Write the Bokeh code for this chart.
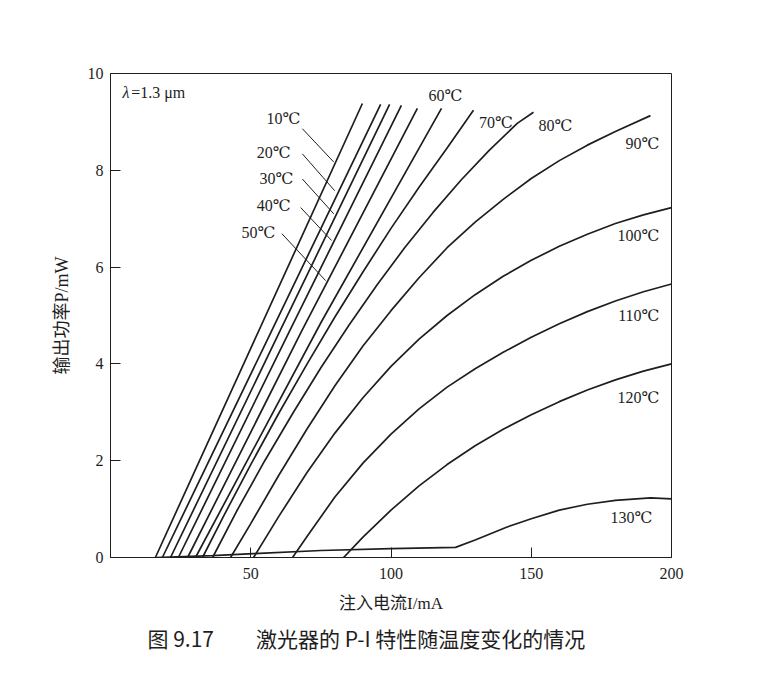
from bokeh.plotting import figure
from bokeh.models import Range1d, FixedTicker, Title
from bokeh.core.properties import value
from bokeh.embed import file_html
from bokeh.resources import INLINE

# ---------------- data ----------------
temps = ["10℃", "20℃", "30℃", "40℃", "50℃", "60℃", "70℃",
         "80℃", "90℃", "100℃", "110℃", "120℃", "130℃"]

i_10 = [16.0, 50.0, 89.8]
p_10 = [0.0, 4.32, 9.38]
i_20 = [18.5, 55.0, 96.3]
p_20 = [0.0, 4.39, 9.36]
i_30 = [21.4, 60.0, 99.5]
p_30 = [0.0, 4.63, 9.36]
i_40 = [24.2, 64.0, 103.7]
p_40 = [0.0, 4.70, 9.34]
i_50 = [27.5, 68.0, 109.4]
p_50 = [0.0, 4.66, 9.28]
i_60 = [30.3, 75.0, 118.0]
p_60 = [0.0, 4.85, 9.28]
i_70 = [32.8, 40, 50, 60, 70, 80, 90, 100, 110, 120, 129.4]
p_70 = [0.0, 0.82, 1.92, 2.98, 3.99, 4.97, 5.9, 6.8, 7.65, 8.46, 9.24]
i_80 = [36.4, 45, 55, 65, 75, 85, 95, 105, 115, 125, 135, 145, 150.8]
p_80 = [0.0, 0.96, 2.0, 2.98, 3.92, 4.80, 5.63, 6.41, 7.13, 7.80, 8.41, 8.97, 9.2]
i_90 = [42.8, 50, 60, 70, 80, 90, 100, 110, 120, 130, 140, 150, 160, 170, 180, 192.5]
p_90 = [0.0, 0.7, 1.7, 2.65, 3.55, 4.37, 5.1, 5.78, 6.4, 6.93, 7.4, 7.83, 8.2, 8.52, 8.8, 9.13]
i_100 = [51, 60, 70, 80, 90, 100, 110, 120, 130, 140, 150, 160, 170, 180, 190, 200]
p_100 = [0.0, 0.85, 1.75, 2.57, 3.3, 3.95, 4.51, 5.0, 5.43, 5.81, 6.14, 6.43, 6.68, 6.9, 7.08, 7.23]
i_110 = [64.9, 70, 80, 90, 100, 110, 120, 130, 140, 150, 160, 170, 180, 190, 200]
p_110 = [0.0, 0.43, 1.25, 1.95, 2.55, 3.07, 3.52, 3.9, 4.24, 4.55, 4.83, 5.08, 5.3, 5.49, 5.65]
i_120 = [83.1, 90, 100, 110, 120, 130, 140, 150, 160, 170, 180, 190, 200]
p_120 = [0.0, 0.42, 0.98, 1.48, 1.92, 2.31, 2.65, 2.95, 3.22, 3.46, 3.67, 3.85, 4.0]
i_130 = [16, 36.4, 51, 75, 100, 123, 130, 141.4, 150, 160, 170, 180, 192.5, 200]
p_130 = [0.0, 0.04, 0.08, 0.145, 0.185, 0.21, 0.36, 0.63, 0.8, 0.98, 1.1, 1.18, 1.23, 1.21]

currents = [i_10, i_20, i_30, i_40, i_50, i_60, i_70, i_80, i_90, i_100, i_110, i_120, i_130]
powers = [p_10, p_20, p_30, p_40, p_50, p_60, p_70, p_80, p_90, p_100, p_110, p_120, p_130]

# labels 10..50 with leader lines
left_lab_x = [67.7, 64.2, 65.2, 64.2, 58.8]
left_lab_y = [9.07, 8.37, 7.83, 7.27, 6.72]
lead_x0 = [68.4, 68.4, 68.4, 67.8, 61.1]
lead_y0 = [8.86, 8.34, 7.82, 7.23, 6.69]
lead_x1 = [79.6, 79.9, 79.6, 78.8, 76.7]
lead_y1 = [8.17, 7.58, 7.10, 6.55, 5.72]

# labels 60..80 (centred)
top_lab_x = [119.4, 137.4, 158.6]
top_lab_y = [9.55, 8.99, 8.93]
# labels 90..130 (right aligned)
right_lab_x = [195.7, 195.7, 195.7, 195.7, 193.2]
right_lab_y = [8.55, 6.65, 5.0, 3.31, 0.83]

x_ticks = [50, 100, 150, 200]
y_ticks = [0, 2, 4, 6, 8, 10]

SERIF = "Liberation Serif, DejaVu Serif, Noto Sans CJK SC"
CJK = "Noto Sans CJK SC"
INK = "#1e1e1e"

p = figure(width=744, height=668, x_range=Range1d(0, 200), y_range=Range1d(0, 10),
           output_backend="svg", toolbar_location=None,
           min_border_left=110, min_border_right=73, min_border_top=73,
           min_border_bottom=111, background_fill_color="white",
           border_fill_color="white")
p.grid.visible = False
p.outline_line_color = INK
p.outline_line_width = 1

for ax in (p.xaxis[0], p.yaxis[0]):
    ax.axis_line_color = INK
    ax.axis_line_width = 1
    ax.major_tick_in = 10
    ax.major_tick_out = 0
    ax.major_tick_line_color = INK
    ax.minor_tick_line_color = None
    ax.major_label_text_font = SERIF
    ax.major_label_text_font_size = "16px"
    ax.major_label_text_color = INK
    ax.axis_label_text_font = SERIF
    ax.axis_label_text_font_size = "17px"
    ax.axis_label_text_font_style = "normal"
    ax.axis_label_text_color = INK

p.xaxis.ticker = FixedTicker(ticks=x_ticks)
p.yaxis.ticker = FixedTicker(ticks=y_ticks)
p.xaxis.major_label_standoff = 10
p.yaxis.major_label_standoff = 7
p.xaxis.axis_label = "注入电流I/mA"
p.yaxis.axis_label = "输出功率P/mW"
p.yaxis.axis_label_text_font_size = "18px"
p.xaxis.axis_label_standoff = 12
p.yaxis.axis_label_standoff = 13

p.multi_line(xs=currents, ys=powers, line_color=INK, line_width=1.7)
p.segment(x0=lead_x0, y0=lead_y0, x1=lead_x1, y1=lead_y1, line_color=INK, line_width=1)

p.text(x=left_lab_x, y=left_lab_y, text=temps[0:5], text_align="right",
       text_baseline="middle", text_font=value(SERIF), text_font_size="16px",
       text_color=INK)
p.text(x=top_lab_x, y=top_lab_y, text=temps[5:8], text_align="center",
       text_baseline="middle", text_font=value(SERIF), text_font_size="16px",
       text_color=INK)
p.text(x=right_lab_x, y=right_lab_y, text=temps[8:13], text_align="right",
       text_baseline="middle", text_font=value(SERIF), text_font_size="16px",
       text_color=INK)

p.text(x=[4.3], y=[9.6], text=["λ"], text_align="left", text_baseline="middle",
       text_font=value(SERIF), text_font_size="16px", text_font_style="italic",
       text_color=INK)
p.text(x=[7.4], y=[9.6], text=["=1.3 μm"], text_align="left", text_baseline="middle",
       text_font=value(SERIF), text_font_size="16px", text_color=INK)

p.add_layout(Title(text="图\u00a09.17\u3000\u3000激光器的\u00a0P-I\u00a0特性随温度变化的情况",
                   align="left", offset=37, text_font=CJK, text_font_size="21px",
                   text_font_style="normal", text_color=INK, standoff=10), "below")

open("out.html", "w").write(file_html(p, INLINE))
